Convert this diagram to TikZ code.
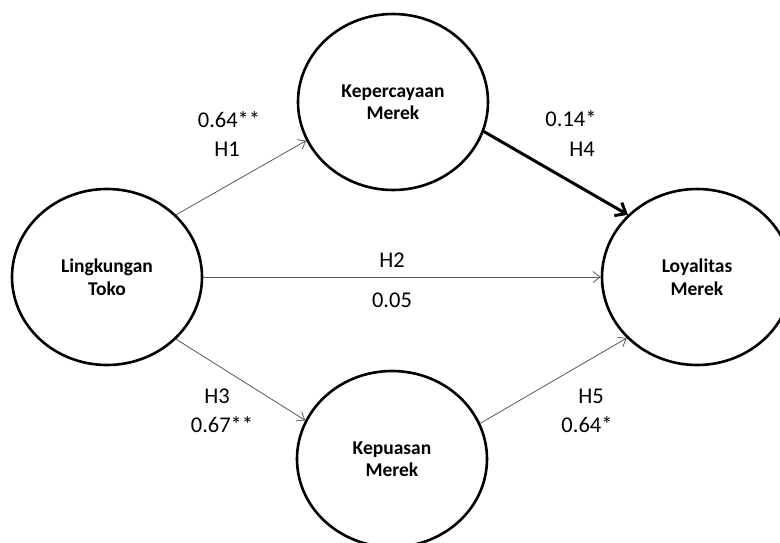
\documentclass[tikz,border=0pt]{standalone}
\usepackage{fontspec}
\setmainfont{Carlito}
\usetikzlibrary{shapes.geometric,arrows.meta}
\begin{document}
\begin{tikzpicture}[x=1pt,y=-1pt,
  construct/.style={ellipse,draw=black,line width=2.6pt,minimum width=190pt,minimum height=176pt,inner sep=0pt,
    align=center,font=\fontsize{19.5}{22.5}\selectfont\bfseries},
  thinarrow/.style={draw=black!65,line width=0.8pt,-{Straight Barb[length=7pt,width=11pt]}},
  thickarrow/.style={draw=black,line width=3pt,-{Straight Barb[length=9pt,width=15pt]}},
  lbl/.style={anchor=base,inner sep=0pt,font=\fontsize{22.5}{26}\selectfont}]
\useasboundingbox[fill=white] (0,0) rectangle (780,543);
\node[construct] (lt) at (107,277) {Lingkungan\\Toko};
\node[construct] (km) at (393,102) {Kepercayaan\\Merek};
\node[construct] (pm) at (392,459) {Kepuasan\\Merek};
\node[construct] (lm) at (697,277) {Loyalitas\\Merek};
\draw[thinarrow] (lt.42) -- (km.204);
\draw[thinarrow] (lt.east) -- (lm.west);
\draw[thinarrow] (lt.-42) -- (pm.156);
\draw[thickarrow] (km.-18.6) -- (lm.138.5);
\draw[thinarrow] (pm.22.9) -- (lm.221.5);
\node[lbl] (l1a) at (229,128) {0.64**};
\node[lbl] (l1b) at (227,157) {H1};
\node[lbl] (l4a) at (571,127) {0.14*};
\node[lbl] (l4b) at (582,157) {H4};
\node[lbl] (l2a) at (392,267) {H2};
\node[lbl] (l2b) at (392,307) {0.05};
\node[lbl] (l3a) at (217,403) {H3};
\node[lbl] (l3b) at (222,432) {0.67**};
\node[lbl] (l5a) at (591,403) {H5};
\node[lbl] (l5b) at (587,432) {0.64*};
\end{tikzpicture}
\end{document}
